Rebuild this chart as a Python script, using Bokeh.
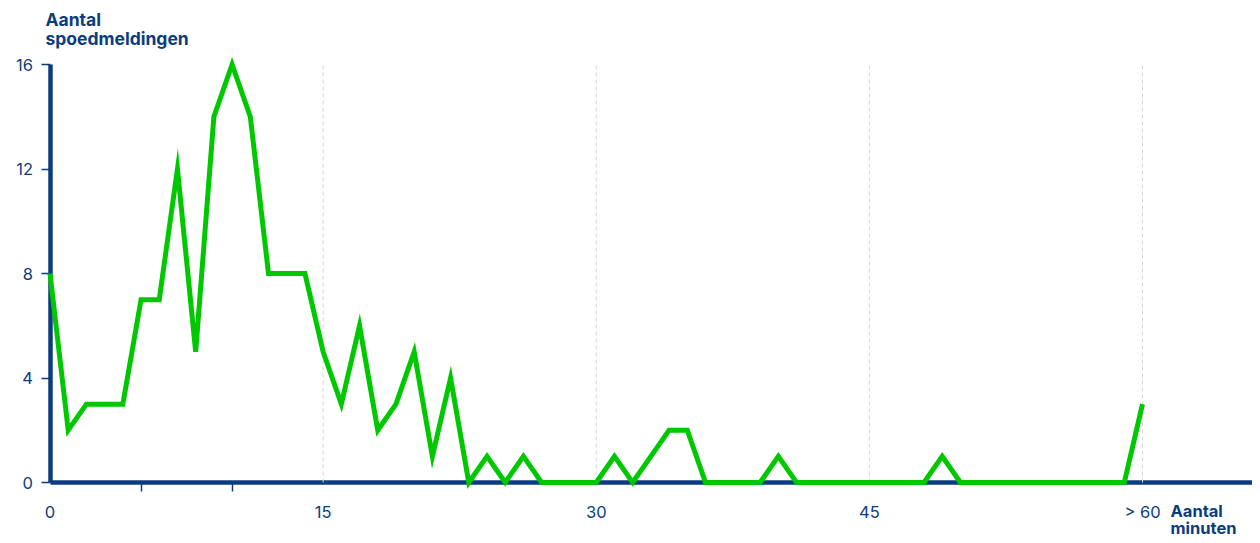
from bokeh.plotting import figure
from bokeh.models import Range1d, FixedTicker, Label
from bokeh.embed import file_html
from bokeh.resources import INLINE

minutes = list(range(0, 61))
counts = [8, 2, 3, 3, 3, 7, 7, 12, 5, 14,
          16, 14, 8, 8, 8, 5, 3, 6, 2, 3,
          5, 1, 4, 0, 1, 0, 1, 0, 0, 0,
          0, 1, 0, 1, 2, 2, 0, 0, 0, 0,
          1, 0, 0, 0, 0, 0, 0, 0, 0, 1,
          0, 0, 0, 0, 0, 0, 0, 0, 0, 0,
          3]
x_ticks = [0, 15, 30, 45, 60]
x_minor = [5, 10]
x_labels = {60: "> 60"}
y_ticks = [0, 4, 8, 12, 16]
grid_x = [15, 30, 45, 60]
y_title = ["Aantal", "spoedmeldingen"]
x_title = ["Aantal", "minuten"]

NAVY = "#0b3d7e"
GREEN = "#00c800"
FONT = "Inter"

W, H = 1252, 535
# pixel layout of the frame (frame == whole canvas)
px0, px60 = 49.5, 1142.0
py0, py16 = 482.0, 64.0
sx = (px60 - px0) / 60.0
sy = (py0 - py16) / 16.0
x_start, x_end = -px0 / sx, (W - px0) / sx
y_start, y_end = -(H - py0) / sy, (py0 / sy)

p = figure(width=W, height=H, output_backend="svg", toolbar_location=None,
           x_range=Range1d(x_start, x_end), y_range=Range1d(y_start, y_end),
           min_border_left=0, min_border_right=0, min_border_top=0, min_border_bottom=0)
p.outline_line_color = None
p.background_fill_color = "white"
p.border_fill_color = "white"
p.grid.visible = False

# dashed vertical grid
p.segment(x0=grid_x, y0=[0] * len(grid_x), x1=grid_x, y1=[16] * len(grid_x),
          line_color="#d6d6d6", line_width=1, line_dash="4 3")

p.line(minutes, counts, line_color=GREEN, line_width=5, line_join="miter")

ax = p.xaxis[0]
ax.fixed_location = 0
ax.bounds = (0, x_end)
ax.ticker = FixedTicker(ticks=x_ticks, minor_ticks=x_minor)
ax.major_label_overrides = x_labels
ax.axis_line_color = NAVY
ax.axis_line_width = 4.5
ax.major_tick_line_color = None
ax.major_tick_out = 0
ax.major_tick_in = 0
ax.minor_tick_line_color = NAVY
ax.minor_tick_line_width = 1.5
ax.minor_tick_out = 9
ax.minor_tick_in = 0
ax.major_label_standoff = 10
ax.major_label_text_color = NAVY
ax.major_label_text_font = FONT
ax.major_label_text_font_size = "16.5px"
ax.level = "underlay"

ay = p.yaxis[0]
ay.fixed_location = 0
ay.ticker = FixedTicker(ticks=y_ticks, minor_ticks=[])
ay.bounds = (0, 16)
ay.axis_line_color = NAVY
ay.axis_line_width = 4.5
ay.major_tick_line_color = NAVY
ay.major_tick_line_width = 1.5
ay.major_tick_out = 9
ay.major_tick_in = 0
ay.minor_tick_line_color = None
ay.major_label_standoff = 8
ay.major_label_text_color = NAVY
ay.major_label_text_font = FONT
ay.major_label_text_font_size = "16.5px"
ay.level = "underlay"


def add_lbl(xpix, ybase, t, size="17.5px"):
    p.add_layout(Label(x=(xpix - px0) / sx, y=(py0 - ybase) / sy, text=t,
                       text_baseline="alphabetic", text_align="left", text_color=NAVY,
                       text_font=FONT, text_font_style="bold", text_font_size=size))


add_lbl(45, 19, y_title[0])
add_lbl(45, 38, y_title[1])
add_lbl(1170, 510, x_title[0], "16.5px")
add_lbl(1170, 527, x_title[1], "16.5px")

open("out.html", "w").write(file_html(p, INLINE))
